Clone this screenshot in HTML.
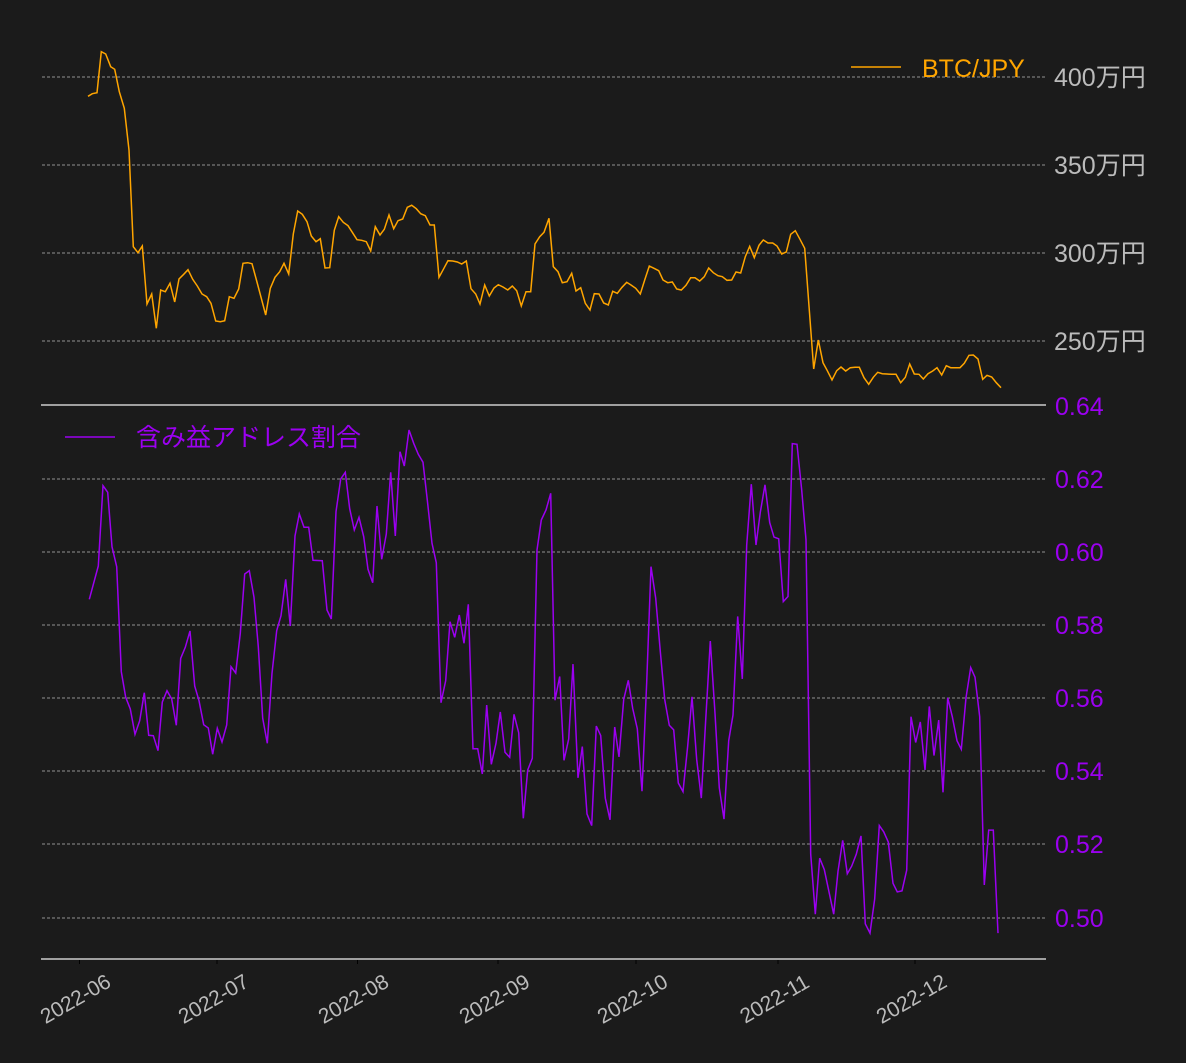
<!DOCTYPE html>
<html><head><meta charset="utf-8"><style>
html,body{margin:0;padding:0;background:#1b1b1b;}
svg{display:block;}
text{font-family:"Liberation Sans","Noto Sans CJK JP",sans-serif;}
</style></head><body>
<svg id="s" width="1186" height="1063" viewBox="0 0 1186 1063" xmlns="http://www.w3.org/2000/svg">
<rect width="1186" height="1063" fill="#1b1b1b"/>
<g stroke="#bbbbbb" stroke-width="0.8" stroke-dasharray="3,2">
<line x1="42" x2="1046" y1="77" y2="77"/><line x1="42" x2="1046" y1="165" y2="165"/>
<line x1="42" x2="1046" y1="253" y2="253"/><line x1="42" x2="1046" y1="341" y2="341"/>
<line x1="42" x2="1046" y1="479" y2="479"/><line x1="42" x2="1046" y1="552" y2="552"/>
<line x1="42" x2="1046" y1="625" y2="625"/><line x1="42" x2="1046" y1="698" y2="698"/>
<line x1="42" x2="1046" y1="771" y2="771"/><line x1="42" x2="1046" y1="844" y2="844"/>
<line x1="42" x2="1046" y1="918" y2="918"/>
</g>
<line x1="41" x2="1046" y1="405" y2="405" stroke="#cccccc" stroke-width="1.5"/>
<line x1="41" x2="1046" y1="959" y2="959" stroke="#cccccc" stroke-width="1.5"/>
<g stroke="#000" stroke-width="1">
<line x1="79.5" x2="79.5" y1="960" y2="964"/><line x1="217" x2="217" y1="960" y2="964"/>
<line x1="357.5" x2="357.5" y1="960" y2="964"/><line x1="498" x2="498" y1="960" y2="964"/>
<line x1="636" x2="636" y1="960" y2="964"/><line x1="778" x2="778" y1="960" y2="964"/>
<line x1="915" x2="915" y1="960" y2="964"/>
</g>
<g fill="#bbbbbb" font-size="25">
<text x="1054" y="86">400万円</text><text x="1054" y="174">350万円</text>
<text x="1054" y="262">300万円</text><text x="1054" y="350">250万円</text>
</g>
<g fill="#9b00f0" font-size="25">
<text x="1055" y="415">0.64</text><text x="1055" y="488">0.62</text>
<text x="1055" y="561">0.60</text><text x="1055" y="634">0.58</text>
<text x="1055" y="707">0.56</text><text x="1055" y="780">0.54</text>
<text x="1055" y="853">0.52</text><text x="1055" y="927">0.50</text>
</g>
<g fill="#bbbbbb" font-size="21" text-anchor="middle">
<text transform="translate(79,1005) rotate(-30)">2022-06</text>
<text transform="translate(217,1005) rotate(-30)">2022-07</text>
<text transform="translate(357,1005) rotate(-30)">2022-08</text>
<text transform="translate(498,1005) rotate(-30)">2022-09</text>
<text transform="translate(636,1005) rotate(-30)">2022-10</text>
<text transform="translate(778,1005) rotate(-30)">2022-11</text>
<text transform="translate(915,1005) rotate(-30)">2022-12</text>
</g>
<line x1="851" x2="901" y1="67" y2="67" stroke="#ffa500" stroke-width="1.5"/>
<text x="922" y="77" fill="#ffa500" font-size="25">BTC/JPY</text>
<line x1="65" x2="115" y1="437" y2="437" stroke="#9b00f0" stroke-width="1.5"/>
<text x="136" y="446" fill="#9b00f0" font-size="25">含み益アドレス割合</text>
<polyline id="btc" fill="none" stroke="#ffa500" stroke-width="1.5"/>
<polyline id="pr" fill="none" stroke="#9b00f0" stroke-width="1.5"/>
</svg>
<script>
function pts(a,f){var o=[];for(var i=0;i<a.length;i+=2){var p=f(a[i],a[i+1]);o.push(p[0].toFixed(1)+","+p[1].toFixed(1));}return o;}
var z3=[24,169,37,161,51,158,64,35,77,42,92,80,104,88,118,155,133,205,147,330,160,620,174,638,187,618,201,792,215,762,229,865,242,750,256,755,270,730,284,786,297,717,311,703,324,689,338,718,352,738,366,762,380,770,393,790,407,843,421,845,434,842,448,770,462,775,476,747,489,670,503,668,516,671,530,723,544,775,557,825,571,745,585,712,599,695,612,670,626,702,640,582,653,513,667,523,681,545,694,588,708,605,721,596,735,684,749,683,763,571,776,530,790,547,804,557,817,577,831,599,845,601,859,605,872,633,886,560,900,585,913,568,927,525,941,566,954,542,968,537,982,502,995,496,1009,506,1022,521,1036,527,1050,555,1063,555,1077,712,1091,686,1104,662,1118,663,1132,666,1145,672,1159,663,1173,746,1187,762,1200,792,1214,735,1228,768,1242,744,1255,734,1269,741,1283,750,1297,738,1310,752,1324,798,1338,755,1352,755,1365,612,1379,590];
var z4=[12,97,27,55,40,200,54,215,67,248,81,245,95,220,108,273,122,263,136,310,150,330,163,281,177,282,191,309,205,315,218,274,232,280,246,262,260,247,273,255,287,265,301,282,314,240,328,198,342,205,356,212,369,240,383,248,397,246,410,267,424,270,438,256,452,233,465,233,479,243,493,230,506,204,520,218,534,227,547,230,561,241,575,240,588,216,602,219,616,170,629,139,643,173,657,136,670,120,684,129,698,129,711,138,725,162,739,156,752,103,766,92,780,118,794,145,808,330,821,507,835,420,849,488,862,512,876,540,890,512,903,501,917,513,931,503,945,502,958,502,972,533,986,553,1000,532,1013,517,1027,521,1041,522,1054,523,1068,523,1082,548,1096,532,1109,492,1123,522,1137,523,1150,537,1164,521,1178,513,1191,503,1205,525,1219,497,1232,503,1246,503,1260,503,1273,490,1287,466,1300,465,1314,477,1328,538,1341,526,1355,531,1369,548,1383,563];
var b=pts(z3,function(x,y){return[80+x/3,40+y/3]}).concat(pts(z4,function(x,y){return[540+x/3,200+y/3]}));
document.getElementById('btc').setAttribute('points',b.join(' '));
var z1=[28,568,55,468,69,227,83,247,96,410,110,470,124,785,137,862,151,897,165,973,179,932,193,848,206,976,220,977,234,1022,247,876,261,842,275,867,289,946,302,745,316,712,330,663,344,828,357,872,371,944,385,954,398,1033,412,955,426,996,440,945,453,770,467,789,481,670,494,492,508,482,522,562,535,710,548,925,562,1000,576,790,590,662,603,617,617,508,631,648,645,378,658,312,672,352,686,352,699,451,727,452,741,600,754,627,768,305,782,207,796,187,809,296,823,360,837,322,851,380,864,478,878,518,891,288,905,448,919,372,932,187,946,378,960,125,973,168,987,60,1001,100,1015,133,1029,157,1042,270,1056,400,1069,458,1083,878,1097,812,1110,635,1124,682,1138,615,1152,700,1165,583,1179,1016,1193,1016,1207,1092,1220,885,1234,1063,1248,1000,1261,906,1275,1027,1289,1042,1302,913,1316,968,1330,1225,1343,1080,1357,1045,1371,420,1384,330,1398,300,1412,250];
var z2=[45,842,59,773,72,1017,86,955,99,737,114,1068,127,977,141,1173,155,1207,169,917,182,945,196,1127,210,1190,224,920,237,1007,251,840,265,784,278,866,292,925,306,1107,320,790,333,453,347,545,361,700,374,840,388,915,401,928,415,1083,429,1108,443,975,456,832,470,1015,484,1127,497,900,511,670,525,880,538,1097,552,1188,566,960,579,885,593,598,607,780,620,390,634,213,648,390,661,295,675,215,689,325,702,367,716,372,730,555,744,540,757,95,771,97,785,230,798,375,812,1290,826,1465,839,1302,853,1335,867,1400,881,1465,894,1340,908,1250,922,1347,935,1325,949,1290,963,1237,976,1493,990,1520,1004,1420,1018,1207,1031,1225,1045,1255,1059,1375,1072,1400,1086,1397,1100,1337,1113,890,1127,965,1141,905,1155,1045,1168,860,1182,1003,1196,900,1209,1110,1223,835,1237,890,1251,960,1264,985,1278,835,1292,747,1305,775,1319,890,1333,1380,1346,1220,1360,1220,1374,1520];
var p=pts(z1,function(x,y){return[80+x/3,410+y/3]}).concat(pts(z2,function(x,y){return[540+x/3,479+(y-198)*0.3435]}));
document.getElementById('pr').setAttribute('points',p.join(' '));
</script>
</body></html>
